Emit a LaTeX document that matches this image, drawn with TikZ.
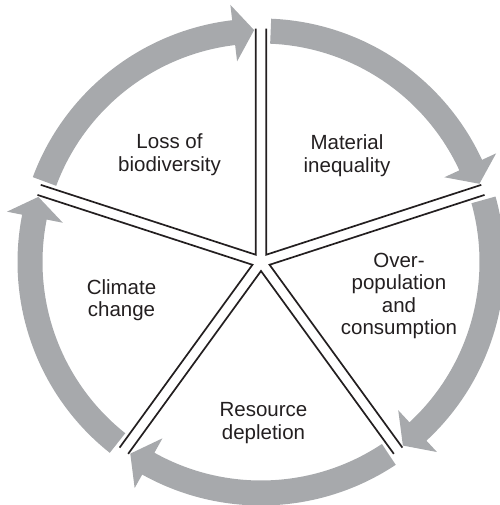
\documentclass[tikz,border=0pt]{standalone}
\usepackage{fontspec}
\setmainfont{Liberation Sans}
\usetikzlibrary{calc}
\definecolor{ringgray}{RGB}{167,169,172}
\definecolor{ink}{RGB}{35,31,32}
\begin{document}
\begin{tikzpicture}[x=1pt,y=1pt,
  sectortext/.style={align=center,font=\fontsize{20.5}{22.5}\selectfont,text=ink,inner sep=0pt},
  divider/.style={draw=ink,line width=1.7pt,line join=miter},
  ring/.style={fill=ringgray}]
\useasboundingbox (0,0) rectangle (499,505);
\coordinate (C) at (261,243);

% circular flow: one curved arrow per sector, running clockwise
\foreach \k in {0,...,4} {
  \pgfmathsetmacro{\s}{90-72*\k-2.4}
  \pgfmathsetmacro{\h}{90-72*(\k+1)+6.8}
  \pgfmathsetmacro{\t}{90-72*(\k+1)+1.7}
  \fill[ring] ($(C)+(\s:243.5pt)$) arc[start angle=\s, end angle=\h, radius=243.5pt]
     -- ($(C)+(\h:259pt)$) -- ($(C)+(\t:232pt)$) -- ($(C)+(\h:202pt)$)
     -- ($(C)+(\h:218.5pt)$) arc[start angle=\h, end angle=\s, radius=218.5pt] -- cycle;
}

% five wedges, each pulled slightly away from the centre
\foreach \k in {0,...,4} {
  \pgfmathsetmacro{\a}{90-72*\k}
  \pgfmathsetmacro{\b}{\a-72}
  \pgfmathsetmacro{\m}{\a-36}
  \coordinate (apex\k) at ($(C)+(\m:9pt)$);
  \draw[divider] ($(apex\k)+(\a:226pt)$) -- (apex\k) -- ($(apex\k)+(\b:226pt)$);
}

\node[sectortext] (loss) at (169.5,350.5) {Loss of\\biodiversity};
\node[sectortext] (material) at (347,349.5) {Material\\inequality};
\node[sectortext] (overpop) at (399,209) {Over-\\population\\and\\consumption};
\node[sectortext] (resource) at (263.5,82) {Resource\\depletion};
\node[sectortext] (climate) at (121.5,205) {Climate\\change};
\end{tikzpicture}
\end{document}
